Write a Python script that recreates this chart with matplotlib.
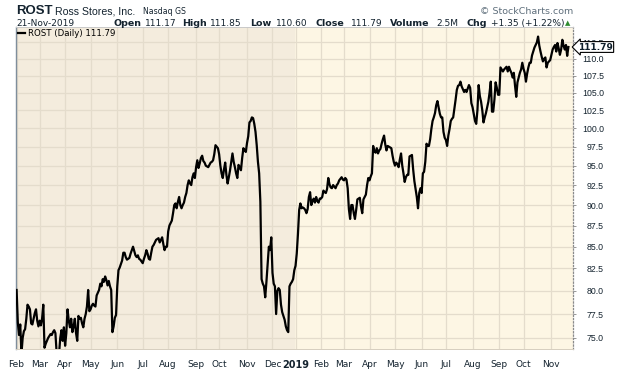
import matplotlib
matplotlib.use("Agg")
import matplotlib.pyplot as plt
from matplotlib.ticker import FixedLocator, FixedFormatter, NullLocator
import pandas as pd

# NYSE holidays inside the range
holidays = ['2018-02-19', '2018-03-30', '2018-05-28', '2018-07-04', '2018-09-03',
            '2018-11-22', '2018-12-05', '2018-12-25', '2019-01-01', '2019-01-21',
            '2019-02-18', '2019-04-19', '2019-05-27', '2019-07-04', '2019-09-02']

# daily closes, one line per month
close_2018 = [
    80.1, 76.6, 75.3, 76.4, 73.4, 75.0, 75.7, 75.9, 77.0, 78.5, 78.3, 78.0, 76.5, 76.4, 77.0, 77.6, 78.0, 76.8, 76.2,  # Feb
    76.8, 76.3, 77.0, 78.5, 74.0, 74.4, 74.7, 75.0, 75.2, 75.4, 75.3, 75.6, 75.8, 75.5, 73.5, 73.6, 73.4, 75.0, 75.8, 74.7, 76.1,  # Mar
    74.2, 75.5, 78.0, 76.8, 76.1, 77.0, 75.6, 76.2, 77.0, 75.5, 74.7, 77.3, 77.0, 77.1, 76.5, 76.1, 77.0, 77.5, 78.3, 80.1, 77.8,  # Apr
    78.0, 78.4, 78.6, 78.4, 78.3, 79.5, 79.8, 80.1, 80.8, 80.5, 81.3, 81.0, 81.6, 81.2, 80.6, 81.1, 80.5, 80.1, 75.6, 76.2, 77.1, 77.4,  # May
    80.5, 82.3, 82.6, 83.0, 83.4, 84.3, 84.3, 83.8, 83.5, 83.6, 83.7, 84.2, 84.6, 85.0, 84.5, 84.0, 83.8, 84.0, 83.6, 83.5, 83.3,  # Jun
    83.1, 83.6, 84.0, 84.6, 84.2, 83.6, 83.5, 84.3, 85.0, 85.2, 85.5, 85.8, 85.9, 86.0, 85.5, 85.8, 86.1, 85.3, 84.6, 85.0, 85.0,  # Jul
    86.8, 87.5, 87.8, 88.1, 89.0, 90.0, 90.2, 89.6, 90.4, 91.0, 90.0, 89.6, 90.0, 90.3, 91.0, 91.5, 92.5, 93.1, 92.7, 92.5, 93.5, 94.0, 93.4,  # Aug
    94.8, 95.7, 94.7, 95.3, 96.0, 96.3, 95.6, 95.4, 95.0, 94.9, 94.8, 95.1, 95.4, 95.5, 95.7, 96.5, 97.7, 97.5, 97.3,  # Sep
    96.5, 95.0, 94.0, 93.4, 94.5, 95.4, 93.8, 92.7, 93.5, 94.4, 95.5, 96.6, 95.5, 94.8, 94.0, 93.4, 95.1, 94.8, 94.4, 96.0, 97.3, 97.0, 96.8,  # Oct
    98.0, 98.9, 100.8, 101.0, 101.5, 101.4, 100.6, 99.5, 97.7, 95.5, 94.0, 90.4, 81.3, 80.8, 80.5, 79.3, 81.0, 83.0, 85.0, 84.6, 86.1,  # Nov
    82.0, 80.8, 80.5, 77.5, 80.0, 80.3, 80.1, 78.5, 77.7, 77.3, 76.9, 76.2, 75.8, 75.6, 80.5, 80.8, 81.0, 81.3, 82.3,  # Dec
]
close_2019 = [
    82.8, 84.2, 86.5, 89.4, 90.2, 89.6, 89.7, 89.6, 89.4, 89.0, 89.5, 91.0, 91.6, 90.0, 90.5, 90.8, 90.3, 91.0, 90.5, 90.3, 90.8,  # Jan
    90.8, 91.0, 91.8, 91.6, 91.5, 92.0, 93.4, 92.6, 92.2, 92.1, 92.5, 92.3, 92.1, 92.5, 92.7, 93.1, 93.3, 93.5, 93.2,  # Feb
    93.1, 93.4, 93.2, 92.1, 89.5, 88.3, 90.0, 90.0, 89.0, 88.3, 89.4, 90.7, 90.8, 90.9, 89.8, 89.0, 90.7, 91.0, 91.3, 92.5, 93.4,  # Mar
    93.1, 93.6, 94.0, 97.6, 96.9, 96.7, 97.3, 96.6, 97.0, 97.2, 97.9, 98.5, 99.0, 97.8, 97.0, 97.6, 97.5, 97.4, 97.3, 96.3, 95.5,  # Apr
    95.0, 95.4, 95.2, 94.8, 95.8, 96.6, 95.0, 94.0, 92.9, 93.5, 93.8, 93.8, 96.2, 96.3, 96.4, 94.5, 93.0, 92.0, 91.0, 89.6, 91.5, 92.1,  # May
    91.5, 94.0, 94.2, 95.5, 97.9, 97.6, 97.6, 98.5, 99.9, 101.0, 101.5, 102.1, 103.2, 103.8, 102.9, 102.0, 101.5, 101.5, 99.5, 98.7,  # Jun
    98.4, 97.6, 99.0, 99.9, 101.0, 101.3, 101.5, 102.7, 104.0, 105.4, 106.0, 106.1, 106.6, 105.9, 105.5, 105.1, 105.4, 105.1, 105.6, 106.1, 105.7, 103.5,  # Jul
    102.9, 101.9, 101.0, 100.6, 102.5, 106.1, 104.5, 103.7, 102.5, 100.8, 101.5, 102.1, 102.9, 103.7, 105.0, 106.6, 102.3, 102.3, 104.0, 106.5, 105.7, 104.7,  # Aug
    104.7, 108.7, 108.4, 108.1, 108.4, 108.6, 108.8, 108.1, 108.8, 108.3, 107.9, 107.2, 107.9, 106.0, 104.4, 106.5, 107.2, 107.9, 108.4, 109.4,  # Sep
    108.5, 107.9, 106.6, 107.8, 108.7, 109.4, 109.4, 110.5, 111.1, 111.7, 112.1, 112.5, 113.4, 112.0, 111.1, 110.3, 109.6, 110.0, 110.2, 108.7, 109.4, 109.6, 109.8,  # Oct
    110.6, 111.4, 111.8, 112.1, 111.1, 112.4, 111.6, 110.6, 111.4, 112.9, 112.0, 111.4, 112.1, 110.44, 111.79,  # Nov
]

y_ticks = [75.0, 77.5, 80.0, 82.5, 85.0, 87.5, 90.0, 92.5, 95.0, 97.5, 100.0, 102.5, 105.0, 107.5, 110.0, 112.5]
month_names = ['Jan', 'Feb', 'Mar', 'Apr', 'May', 'Jun', 'Jul', 'Aug', 'Sep', 'Oct', 'Nov', 'Dec']

closes = close_2018 + close_2019
dates = pd.bdate_range('2018-02-01', '2019-11-21', freq='C', holidays=holidays)
n = min(len(dates), len(closes))
dates = dates[:n]
closes = closes[:n]
idx = list(range(n))

# first trading day of every month
month_pos = []
month_lbl = []
for i, d in enumerate(dates):
    if i == 0 or d.month != dates[i - 1].month:
        month_pos.append(i)
        month_lbl.append(str(d.year) if d.month == 1 else month_names[d.month - 1])
start_2019 = month_pos[month_lbl.index('2019')]

W, H = 620, 376
fig = plt.figure(figsize=(W / 100, H / 100), dpi=100)
ax = fig.add_axes([16 / W, 1 - 349 / H, 557 / W, 322 / H])

xmax = n - 0.5 + 3.3
ax.set_facecolor('#FDF6E4')
ax.axvspan(-0.5, start_2019 - 0.5, color='#F4ECDD', lw=0, zorder=0.1)
ax.set_axisbelow(True)
ax.grid(True, color='#E4DCCC', lw=0.9)

ax.plot(idx, closes, color='black', lw=1.6, zorder=3, label='ROST (Daily) 111.79')

ax.set_yscale('log')
ax.set_ylim(73.87, 114.9)
ax.set_xlim(-0.5, xmax)
ax.yaxis.set_major_locator(FixedLocator(y_ticks))
ax.yaxis.set_major_formatter(FixedFormatter(['%.1f' % v for v in y_ticks]))
ax.yaxis.set_minor_locator(NullLocator())
ax.yaxis.tick_right()
ax.tick_params(axis='y', length=2.2, width=0.6, color='#888888', pad=20,
               labelsize=6.3, labelcolor='#14232F')
for lbl in ax.get_yticklabels():
    lbl.set_ha('right')
    lbl.set_family('Liberation Sans')

ax.set_xticks(month_pos)
ax.set_xticklabels(month_lbl)
ax.tick_params(axis='x', length=0, pad=8, labelsize=6.5, labelcolor='#14232F')
for lbl in ax.get_xticklabels():
    if lbl.get_text() == '2019':
        lbl.set_fontweight('bold')
        lbl.set_fontsize(7)

ax.spines['left'].set_color('#7F8E9C')
ax.spines['left'].set_linewidth(1.0)
ax.spines['right'].set_color('#8A8A8A')
ax.spines['right'].set_linestyle(':')
ax.spines['right'].set_linewidth(0.9)
ax.spines['top'].set_color('#C9C9C9')
ax.spines['top'].set_linewidth(0.7)
ax.spines['bottom'].set_color('#D6CEBF')
ax.spines['bottom'].set_linewidth(0.7)

ax.legend(loc='upper left', frameon=False, handlelength=0.9, handletextpad=0.3,
          borderaxespad=0.05, borderpad=0.15, prop={'size': 6.2})

# last price tag on the right axis (covers the 112.5 label as in the original)
ax.annotate('%.2f' % closes[-1], xy=(1.0, closes[-1]), xycoords=('axes fraction', 'data'),
            xytext=(3.5, 0), textcoords='offset points', ha='left', va='center',
            fontsize=6.5, fontweight='bold', color='#0E1E2B', zorder=10, annotation_clip=False,
            bbox=dict(boxstyle='larrow,pad=0.1', fc='white', ec='black', lw=0.8))

# header
def htext(x, y, s, **kw):
    kw.setdefault('color', '#14232F')
    fig.text(x / W, 1 - y / H, s, va='baseline', ha='left', **kw)

htext(16, 14, 'ROST', fontsize=9.5, fontweight='bold', family='Liberation Sans')
htext(55, 14, 'Ross Stores, Inc.', fontsize=7.6, family='Liberation Sans')
htext(143, 14, 'Nasdaq GS', fontsize=5.6)
htext(16, 26, '21-Nov-2019', fontsize=6.5)
parts = [(113, 'Open', True), (145, '111.17', False), (182, 'High', True), (210, '111.85', False),
         (250, 'Low', True), (276, '110.60', False), (316, 'Close', True), (351, '111.79', False),
         (390, 'Volume', True), (436, '2.5M', False), (467, 'Chg', True), (491, '+1.35 (+1.22%)', False)]
for x, s, b in parts:
    htext(x, 26, s, fontsize=6.8 if b else 6.5, fontweight='bold' if b else 'normal')
htext(565, 25, '\u25b2', fontsize=5, color='#2E8B2E')
fig.text(573 / W, 1 - 14 / H, '\u00a9 StockCharts.com', fontsize=6.8, color='#5F6F7C',
         ha='right', va='baseline')

fig.savefig('out.png', dpi=100, facecolor='white')
